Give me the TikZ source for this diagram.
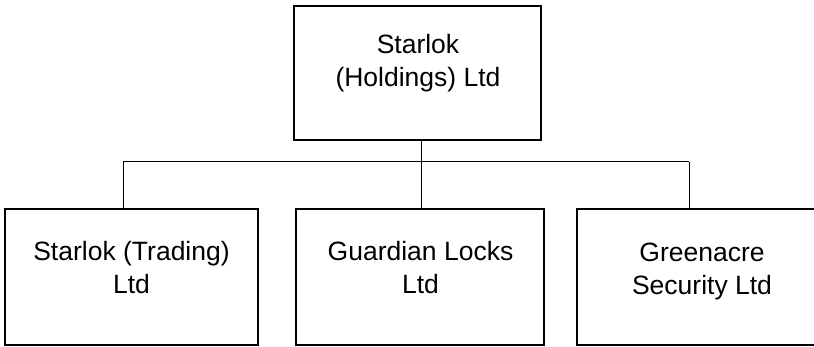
\documentclass[tikz,border=0pt]{standalone}
\usepackage{fontspec}
\setmainfont{Liberation Sans}
\begin{document}
\begin{tikzpicture}[x=1pt,y=-1pt,
  orgbox/.style={draw=black, line width=2pt, rectangle, inner sep=0pt},
  orgtxt/.style={align=center, inner sep=0pt, font=\fontsize{26.5}{33}\selectfont},
  conn/.style={draw=black, line width=1pt}]
\useasboundingbox (0,0) rectangle (814,347);
\clip (0,0) rectangle (814,347);
\node[orgbox, minimum width=247pt, minimum height=134pt] (top) at (417.5,73) {};
\node[orgbox, minimum width=253pt, minimum height=136pt] (left) at (131.5,277) {};
\node[orgbox, minimum width=248pt, minimum height=136pt] (mid) at (420,277) {};
\node[orgbox, minimum width=260pt, minimum height=136pt] (right) at (707,277) {};
\node[orgtxt] (toptxt) at (418,63.5) {Starlok\\(Holdings) Ltd};
\node[orgtxt] (lefttxt) at (131.5,267.5) {Starlok (Trading)\\Ltd};
\node[orgtxt] (midtxt) at (420.5,267.5) {Guardian Locks\\Ltd};
\node[orgtxt] (righttxt) at (702,271) {Greenacre\\Security Ltd};
\coordinate (bl) at (123,162);
\coordinate (bm) at (421,162);
\coordinate (br) at (689,162);
\draw[conn] (bm |- top.south) -- (bm);
\draw[conn] (bl) -- (br);
\draw[conn] (bl) -- (bl |- left.north);
\draw[conn] (bm) -- (bm |- mid.north);
\draw[conn] (br) -- (br |- right.north);
\end{tikzpicture}
\end{document}
